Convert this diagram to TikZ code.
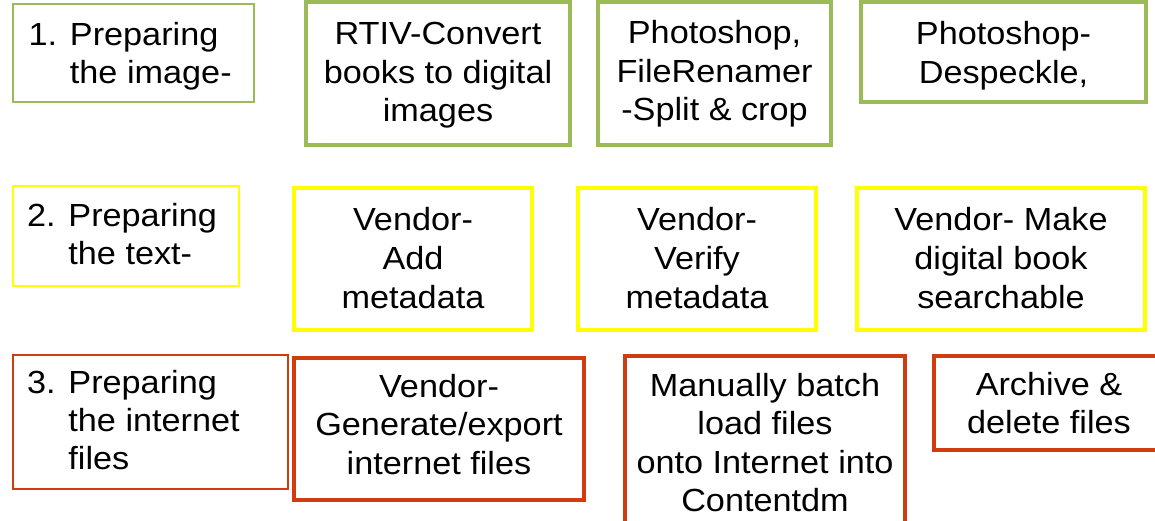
\documentclass[tikz,border=0pt]{standalone}
\usepackage{fontspec}
\setmainfont[FakeStretch=1.07]{Liberation Sans}
\definecolor{grn}{HTML}{9BBB59}
\definecolor{ylw}{HTML}{FFFF00}
\definecolor{rd}{HTML}{D03C0E}
\tikzset{
  boxbase/.style={draw, inner sep=0pt, fill=none},
  thickbox/.style={boxbase, line width=4pt},
  thinbox/.style={boxbase, line width=2pt},
  txt/.style={inner sep=0pt, anchor=base, font=\fontsize{32}{38.5}\selectfont},
  txtl/.style={inner sep=0pt, anchor=base west, font=\fontsize{32}{38}\selectfont},
}
\newcommand{\ctext}[1]{\begin{tabular}[t]{@{}c@{}}#1\end{tabular}}
\newcommand{\ltext}[1]{\begin{tabular}[t]{@{}l@{}}#1\end{tabular}}
\begin{document}
\begin{tikzpicture}[x=1pt,y=-1pt]
\useasboundingbox (0,0) rectangle (1155,521);
\clip (0,0) rectangle (1155,521);
\fill[white] (0,0) rectangle (1155,521);
% Row 1
\node[thinbox, grn, minimum width=241, minimum height=98] (A) at (133.5,53) {};
\node[thickbox, grn, minimum width=264, minimum height=143] (B) at (438,73.5) {};
\node[thickbox, grn, minimum width=233, minimum height=143] (C) at (714.5,73.5) {};
\node[thickbox, grn, minimum width=285, minimum height=100] (D) at (1003.5,52) {};
\node[txtl] (tA) at (28.5,46) {\ltext{1. Preparing\\\hphantom{1. }the image-}};
\node[txt] (tB) at (438,45) {\ctext{RTIV-Convert\\books to digital\\images}};
\node[txt] (tC) at (714.5,44) {\ctext{Photoshop,\\FileRenamer\\-Split \& crop}};
\node[txt] (tD) at (1003.5,45) {\ctext{Photoshop-\\Despeckle,}};
% Row 2
\node[thinbox, ylw, minimum width=226, minimum height=100] (E) at (126,236) {};
\node[thickbox, ylw, minimum width=238, minimum height=142] (F) at (413,259) {};
\node[thickbox, ylw, minimum width=238, minimum height=142] (G) at (697,259) {};
\node[thickbox, ylw, minimum width=288, minimum height=142] (H) at (1001,259) {};
\node[txtl] (tE) at (27,226) {\ltext{2. Preparing\\\hphantom{2. }the text-}};
\node[txt] (tF) at (413,231) {\ctext{Vendor-\\Add\\metadata}};
\node[txt] (tG) at (697,231) {\ctext{Vendor-\\Verify\\metadata}};
\node[txt] (tH) at (1001,231) {\ctext{Vendor- Make\\digital book\\searchable}};
% Row 3
\node[thinbox, rd, minimum width=275, minimum height=134] (I) at (150.5,422) {};
\node[thickbox, rd, minimum width=290, minimum height=142] (J) at (439,429) {};
\node[thickbox, rd, minimum width=280, minimum height=179] (K) at (765,445.5) {};
\node[thickbox, rd, minimum width=230, minimum height=94] (L) at (1049,403) {};
\node[txtl] (tI) at (27,393) {\ltext{3. Preparing\\\hphantom{3. }the internet\\\hphantom{3. }files}};
\node[txt] (tJ) at (439,397) {\ctext{Vendor-\\Generate/export\\internet files}};
\node[txt] (tK) at (765,396) {\ctext{Manually batch\\load files\\onto Internet into\\Contentdm}};
\node[txt] (tL) at (1049,395) {\ctext{Archive \&\\delete files}};
\end{tikzpicture}
\end{document}
